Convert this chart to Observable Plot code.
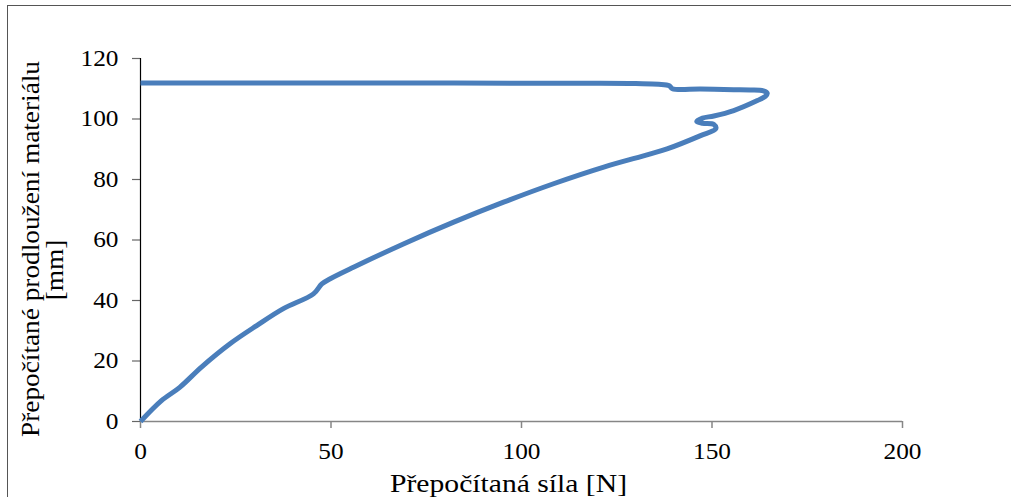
<!DOCTYPE html>
<html>
<head>
<meta charset="utf-8">
<script src="https://cdn.jsdelivr.net/npm/d3@7"></script>
<script src="https://cdn.jsdelivr.net/npm/@observablehq/plot@0.6"></script>
<style>
  html, body { margin: 0; padding: 0; background: #fff; overflow: hidden; }
  #frame { position: absolute; left: 7px; top: 5px; width: 1100px; height: 600px;
           border-top: 1.5px solid #555; border-left: 1.5px solid #555; }
  #chart { position: absolute; left: 0; top: 0; }
</style>
</head>
<body>
<div id="frame"></div>
<div id="chart"></div>
<script>
// Force [N] and elongation [mm]
const forceN = [0, 5.5, 10.3, 16.0, 23.5, 30.5, 37.5, 45.4, 47.6, 49.8, 55.9, 69.0, 82.2, 95.3, 108.4, 121.6, 133.4, 138.2, 147.0, 151.0, 150.5, 147.5, 146.0, 147.5, 150.5, 155.7, 161.9, 164.0, 164.5, 163.5, 160.0, 155.7, 147.0, 139.6, 138.8, 136.0, 130.0, 120.7, 60.0, 0];
const elongMm = [0, 6.9, 11.3, 18.0, 25.7, 31.7, 37.3, 42.2, 45.5, 47.2, 51.0, 58.7, 65.9, 72.5, 78.6, 84.1, 88.3, 90.1, 94.5, 96.8, 98.2, 98.6, 99.2, 100.3, 101.0, 102.8, 106.1, 107.5, 108.5, 109.3, 109.6, 109.7, 109.9, 110.0, 111.0, 111.5, 111.7, 111.8, 111.9, 111.9];
const xTicks = [0, 50, 100, 150, 200];
const yTicks = [0, 20, 40, 60, 80, 100, 120];
const xTitle = "Přepočítaná síla [N]";
const yTitleLines = ["Přepočítané prodloužení materiálu", "[mm]"];

const data = forceN.map((f, i) => ({force: f, elong: elongMm[i]}));

const chart = Plot.plot({
  width: 1011,
  height: 497,
  marginLeft: 140,
  marginRight: 109,
  marginTop: 58,
  marginBottom: 76,
  style: {fontFamily: "'Liberation Serif', 'Times New Roman', serif", fontSize: "23px", background: "transparent", color: "black", overflow: "visible"},
  x: {domain: [0, 200]},
  y: {domain: [0, 120]},
  marks: [
    Plot.ruleY([0], {stroke: "#868686", strokeWidth: 1.5}),
    Plot.axisX({ticks: xTicks, tickSize: 7, tickPadding: 14, stroke: "#868686", strokeWidth: 1.5, label: null, tickFormat: d => String(d)}),
    Plot.axisY({ticks: yTicks, tickSize: 8, tickPadding: 14, stroke: "#666", strokeWidth: 1.2, label: null, tickFormat: d => String(d)}),
    Plot.ruleX([0], {stroke: "black", strokeWidth: 1.2}),
    Plot.line(data, {x: "force", y: "elong", stroke: "#4a7ebb", strokeWidth: 5, curve: "catmull-rom", strokeLinejoin: "round", strokeLinecap: "butt"}),
    Plot.text([xTitle], {text: d => d, frameAnchor: "bottom", textAnchor: "middle", dx: -13, dy: 62, lineAnchor: "middle", fill: "black", fontSize: 26, className: "xtitle"}),
    Plot.text([yTitleLines[0]], {text: d => d, frameAnchor: "left", textAnchor: "middle", rotate: -90, dx: -110, dy: 9, lineAnchor: "middle", fill: "black", fontSize: 26, className: "ytitle"}),
    Plot.text([yTitleLines[1]], {text: d => d, frameAnchor: "left", textAnchor: "middle", rotate: -90, dx: -86, dy: 30, lineAnchor: "middle", fill: "black", fontSize: 26, className: "ytitle"})
  ]
});
document.getElementById("chart").appendChild(chart);

// The reference's serif text is slightly stretched horizontally
d3.select(chart).selectAll("text").each(function() {
  const spans = this.querySelectorAll("tspan");
  const els = spans.length ? Array.from(spans) : [this];
  const k = this.closest(".xtitle") ? 1.14 : this.closest(".ytitle") ? 1.05 : 1.1;
  for (const el of els) {
    const L = el.getComputedTextLength();
    if (L > 0) {
      el.setAttribute("textLength", (L * k).toFixed(1));
      el.setAttribute("lengthAdjust", "spacingAndGlyphs");
    }
  }
});
</script>
</body>
</html>
